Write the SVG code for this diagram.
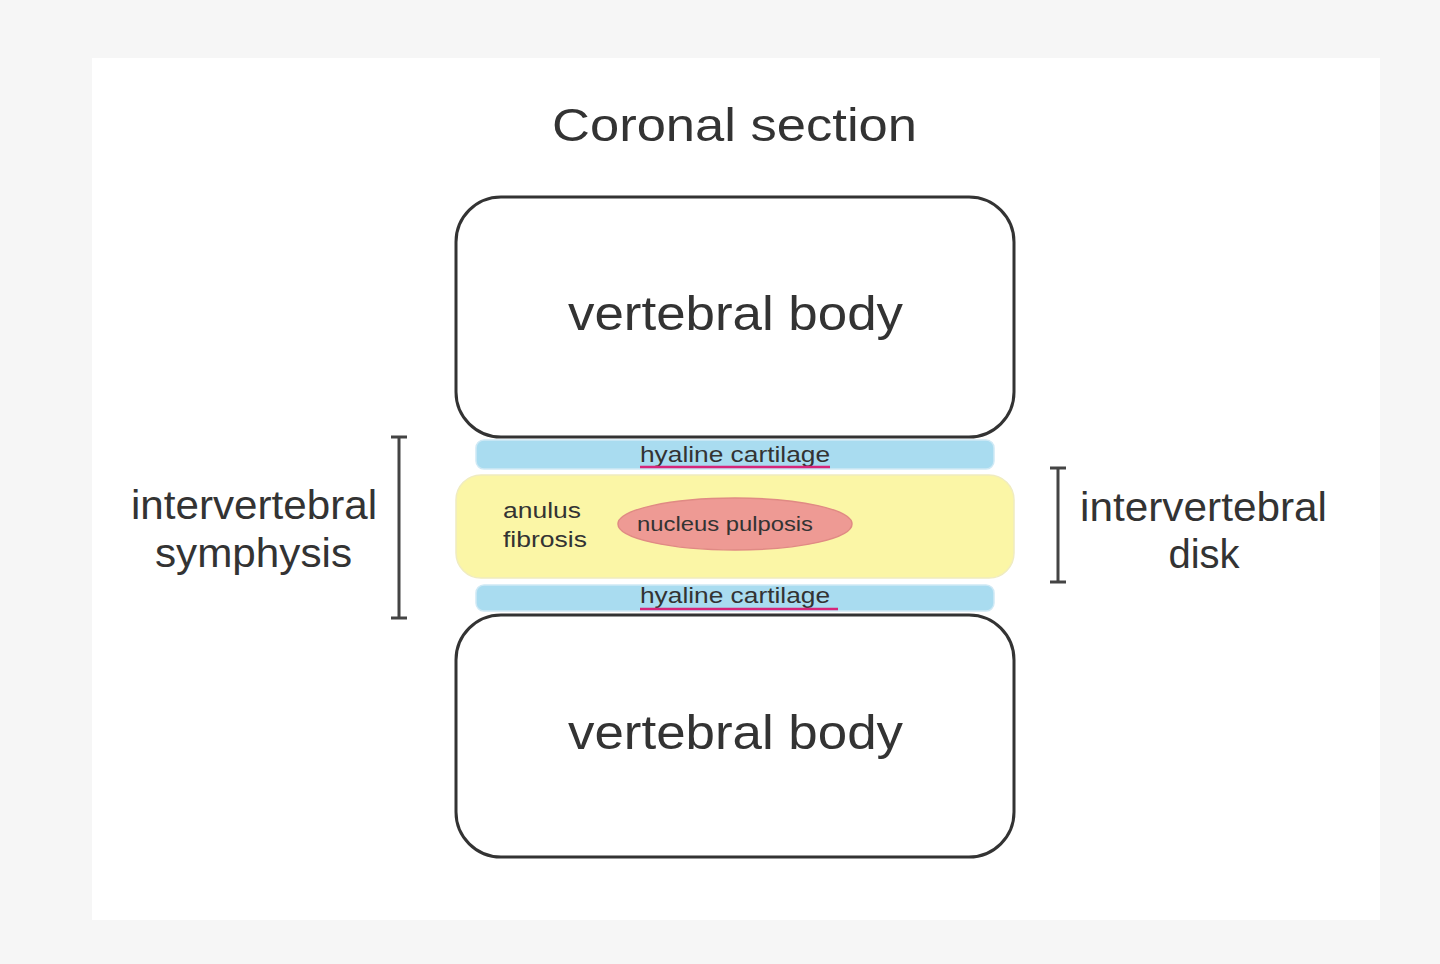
<svg xmlns="http://www.w3.org/2000/svg" width="1440" height="964" viewBox="0 0 1440 964">
<style>
text{font-family:"Liberation Sans",Arial,sans-serif;fill:#333}
.box{fill:#fff;stroke:#333;stroke-width:3}
.cart{fill:#a9dcf0;stroke:#cfe9f5;stroke-width:1.5}
.ul{stroke:#d6257a;stroke-width:2.5}
.br{stroke:#444;stroke-width:3;fill:none}
</style>
<rect width="1440" height="964" fill="#f6f6f6"/>
<rect x="92" y="58" width="1288" height="862" fill="#fff"/>
<text x="552" y="141" font-size="47" textLength="365" lengthAdjust="spacingAndGlyphs">Coronal section</text>
<g id="vb-top"><rect class="box" x="456" y="197" width="558" height="240" rx="45"/>
<text x="568" y="330" font-size="48" textLength="335" lengthAdjust="spacingAndGlyphs">vertebral body</text></g>
<g id="cart-top"><rect class="cart" x="476" y="440" width="518" height="29" rx="8"/>
<text x="640" y="462" font-size="22" textLength="190" lengthAdjust="spacingAndGlyphs">hyaline cartilage</text>
<line class="ul" x1="640" y1="467" x2="830" y2="467"/></g>
<g id="anulus"><rect x="456" y="475" width="558" height="103" rx="25" fill="#fbf6a6" stroke="#f0ecc0" stroke-width="1.5"/>
<text x="503" y="518" font-size="22" textLength="78" lengthAdjust="spacingAndGlyphs">anulus</text>
<text x="503" y="547" font-size="22" textLength="84" lengthAdjust="spacingAndGlyphs">fibrosis</text></g>
<g id="nucleus"><ellipse cx="735" cy="524" rx="117" ry="26" fill="#ee9a94" stroke="#e08a84" stroke-width="1.5"/>
<text x="637" y="531" font-size="20" textLength="176" lengthAdjust="spacingAndGlyphs">nucleus pulposis</text></g>
<g id="cart-bot"><rect class="cart" x="476" y="585" width="518" height="26" rx="8"/>
<text x="640" y="603" font-size="22" textLength="190" lengthAdjust="spacingAndGlyphs">hyaline cartilage</text>
<line class="ul" x1="640" y1="609" x2="838" y2="609"/></g>
<g id="vb-bot"><rect class="box" x="456" y="615" width="558" height="242" rx="45"/>
<text x="568" y="749" font-size="48" textLength="335" lengthAdjust="spacingAndGlyphs">vertebral body</text></g>
<g id="connectors">
<path class="br" d="M391 437H407M399 437V618M391 618H407"/>
<path class="br" d="M1050 468H1066M1058 468V582M1050 582H1066"/>
</g>
<g id="lbl-sym"><text x="131" y="519" font-size="40" textLength="246" lengthAdjust="spacingAndGlyphs">intervertebral</text>
<text x="155" y="567" font-size="40" textLength="197" lengthAdjust="spacingAndGlyphs">symphysis</text></g>
<g id="lbl-disk"><text x="1080" y="521" font-size="40" textLength="247" lengthAdjust="spacingAndGlyphs">intervertebral</text>
<text x="1204" y="568" font-size="40" text-anchor="middle">disk</text></g>
</svg>
